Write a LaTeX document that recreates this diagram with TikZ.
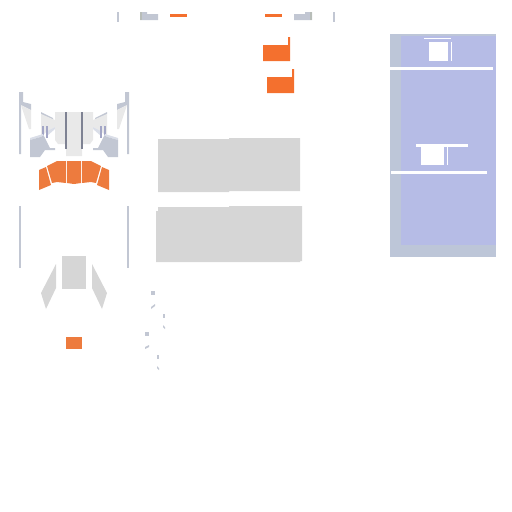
\documentclass[tikz,border=0pt]{standalone}
\definecolor{steelgrey}{RGB}{194,199,211}
\definecolor{paleblue}{RGB}{218,222,232}
\definecolor{lightgrey}{RGB}{233,233,233}
\definecolor{midgrey}{RGB}{214,214,214}
\definecolor{darkbar}{RGB}{126,130,147}
\definecolor{violetbar}{RGB}{163,166,198}
\definecolor{softorange}{RGB}{237,123,62}
\definecolor{brightorange}{RGB}{244,112,46}
\definecolor{panelouter}{RGB}{189,198,216}
\definecolor{panelinner}{RGB}{182,188,230}
\definecolor{olivegrey}{RGB}{184,189,184}
\tikzset{
  steel/.style={fill=steelgrey},
  pale/.style={fill=lightgrey},
  block/.style={fill=midgrey},
  seat/.style={fill=softorange},
  flag/.style={fill=brightorange},
  cutout/.style={fill=white}
}
\newcommand{\halfstand}{%
\fill[steel] (19,92) -- (23,92) -- (23,102) -- (31,104) -- (31,110) -- (21,105) -- (21,154) -- (19,154) -- cycle;
\fill[pale] (21,105) -- (31,110) -- (31,129) -- (29,129) -- cycle;
\fill[steel] (41,112) -- (53,118) -- (53,120) -- (41,114) -- cycle;
\fill[pale] (41,114) -- (55,120) -- (55,127) -- (47,131) -- (41,137) -- cycle;
\fill[paleblue] (47,131) -- (55,127) -- (55,129) -- (47,136) -- cycle;
\fill[violetbar] (42,126) rectangle (44,138);
\fill[violetbar] (46,126) rectangle (48,138);
\fill[paleblue] (30,138) -- (43,134) -- (44,136) -- (30,140) -- cycle;
\fill[steel] (30,140) -- (44,136) -- (50,148) -- (55,148) -- (55,150) -- (45,150) -- (40,157) -- (30,157) -- cycle;
\fill[seat] (47,166) -- (57,161) -- (66,161) -- (66,183) -- (57,182) -- (52,183) -- cycle;
\fill[seat] (39,170) -- (46,167) -- (51,185) -- (39,190) -- cycle;
\fill[steel] (19,206) rectangle (21,268);
\fill[block] (56,264) -- (56,288) -- (46,309) -- (41,293) -- cycle;
}
\begin{document}
\begin{tikzpicture}[x=1pt,y=1pt,yscale=-1,xscale=1]
\useasboundingbox (0,0) rectangle (512,512);
% top strip
\fill[steel] (117,12) rectangle (119,22);
\fill[steel] (333,12) rectangle (335,22);
\fill[steel] (140,12) -- (147,12) -- (147,14) -- (158,14) -- (158,20) -- (140,20) -- cycle;
\fill[olivegrey] (140,12) rectangle (142,20);
\fill[flag] (170,14) rectangle (187,17);
\fill[flag] (265,14) rectangle (282,17);
\fill[steel] (294,14) -- (305,14) -- (305,12) -- (312,12) -- (312,20) -- (294,20) -- cycle;
\fill[olivegrey] (310,12) rectangle (312,20);
% flags
\fill[flag] (263,45) -- (288,45) -- (288,37) -- (290,37) -- (290,61) -- (263,61) -- cycle;
\fill[flag] (267,77) -- (292,77) -- (292,69) -- (294,69) -- (294,93) -- (267,93) -- cycle;
% stands
\halfstand
\begin{scope}[xshift=148pt,xscale=-1]
\halfstand
\end{scope}
\fill[pale] (55,112) -- (93,112) -- (93,140) -- (90,144) -- (82,144) -- (82,156) -- (66,156) -- (66,144) -- (58,144) -- (55,140) -- cycle;
\fill[darkbar] (65,112) rectangle (67,149);
\fill[darkbar] (81,112) rectangle (83,149);
\fill[seat] (67,161) -- (81,161) -- (81,183) -- (74,184) -- (67,183) -- cycle;
\fill[block] (62,256) rectangle (86,289);
\fill[seat] (66,337) rectangle (82,349);
% grey blocks
\fill[block] (158,139) -- (229,139) -- (229,138) -- (300,138) -- (300,191) -- (229,191) -- (229,192) -- (158,192) -- cycle;
\fill[block] (156,211) -- (158,211) -- (158,207) -- (229,207) -- (229,206) -- (302,206) -- (302,261) -- (300,261) -- (300,262) -- (156,262) -- cycle;
% small marks
\fill[steel] (151,291) rectangle (155,295);
\fill[steel] (151,307) -- (155,304) -- (155,306) -- (151,309) -- cycle;
\fill[steel] (163,314) rectangle (165,318);
\fill[steel] (163,325) -- (165,327) -- (165,329) -- (163,327) -- cycle;
\fill[steel] (145,332) rectangle (149,336);
\fill[steel] (145,347) -- (149,345) -- (149,347) -- (145,349) -- cycle;
\fill[steel] (157,355) rectangle (159,359);
\fill[steel] (157,366) -- (159,368) -- (159,370) -- (157,368) -- cycle;
% panel
\fill[fill=panelouter] (390,34) rectangle (496,257);
\fill[fill=panelinner] (401,36) rectangle (496,245);
\fill[cutout] (424,38) rectangle (451,39);
\fill[cutout] (429,42) rectangle (448,61);
\fill[cutout] (451,42) rectangle (452,61);
\fill[cutout] (390,67) rectangle (493,70);
\fill[cutout] (416,144) rectangle (468,147);
\fill[cutout] (421,147) rectangle (444,165);
\fill[cutout] (447,147) rectangle (448,165);
\fill[cutout] (391,171) rectangle (487,174);
\end{tikzpicture}
\end{document}
